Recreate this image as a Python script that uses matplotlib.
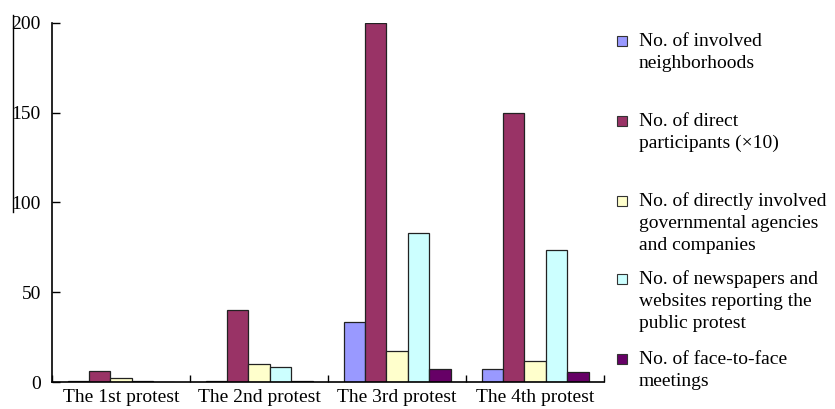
import numpy as np
import matplotlib.pyplot as plt
from matplotlib.lines import Line2D
from matplotlib.patches import Rectangle

plt.rcParams['font.family'] = ['Liberation Serif', 'DejaVu Serif']

protests = ["The 1st protest", "The 2nd protest", "The 3rd protest", "The 4th protest"]
neighborhoods = [0.5, 0.5, 33.5, 7.2]
participants = [6, 40, 200, 150]
agencies = [2, 10, 17, 11.6]
newspapers = [0.5, 8.5, 83, 73.4]
meetings = [0, 0.5, 7.4, 5.8]

series = [neighborhoods, participants, agencies, newspapers, meetings]
colors = ["#9999FF", "#993366", "#FFFFCC", "#CCFFFF", "#660066"]
labels = [
    ["No. of involved", "neighborhoods"],
    ["No. of direct", "participants (\u00d710)"],
    ["No. of directly involved", "governmental agencies", "and companies"],
    ["No. of newspapers and", "websites reporting the", "public protest"],
    ["No. of face-to-face", "meetings"],
]

fig = plt.figure(figsize=(8.35, 4.09), dpi=100)
ax = fig.add_axes([0.0623, 0.066, 0.6611, 0.8778])

x = np.arange(len(protests))
w = 0.155
for i, (vals, c) in enumerate(zip(series, colors)):
    ax.bar(x + (i - 2) * w, vals, w, color=c, edgecolor="#222222", linewidth=0.9)

ax.set_xlim(-0.5, 3.5)
ax.set_ylim(0, 200)
ax.set_yticks([0, 50, 100, 150, 200])
ax.tick_params(axis="y", direction="in", length=6, width=1, labelsize=14, pad=8)

# category separators as ticks, names centred between them
ax.set_xticks(np.arange(-0.5, 4, 1))
ax.set_xticklabels([])
ax.set_xticks(x, minor=True)
ax.set_xticklabels(protests, minor=True)
ax.tick_params(axis="x", which="major", direction="in", length=5, width=1)
ax.tick_params(axis="x", which="minor", length=0, labelsize=14, pad=5)

for s in ["top", "right"]:
    ax.spines[s].set_visible(False)
for s in ["left", "bottom"]:
    ax.spines[s].set_linewidth(1.2)

# legend, each line placed by its baseline (pixels from top)
baselines = [46, 126, 206, 284, 364]
pitch = 22
for c, lines, b in zip(colors, labels, baselines):
    fig.add_artist(Rectangle((617 / 835, 1 - b / 409), 10 / 835, 10 / 409,
                             facecolor=c, edgecolor="#333333", linewidth=0.8,
                             transform=fig.transFigure))
    for k, line in enumerate(lines):
        fig.text(639 / 835, 1 - (b + k * pitch) / 409, line, fontsize=14,
                 va="baseline", ha="left")

# thin vertical line at far left
fig.add_artist(Line2D([13 / 835, 13 / 835], [1 - 15 / 409, 1 - 212 / 409],
                      color="black", linewidth=1, transform=fig.transFigure))

fig.savefig("out.png", dpi=100)
